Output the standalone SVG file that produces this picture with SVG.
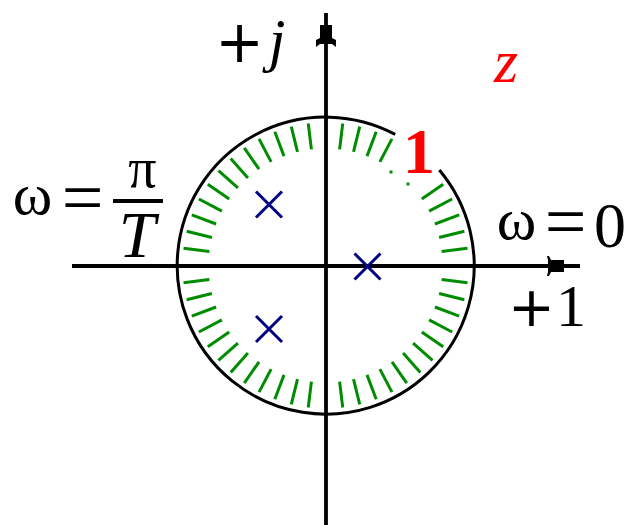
<svg xmlns="http://www.w3.org/2000/svg" xmlns:xlink="http://www.w3.org/1999/xlink" width="630" height="525" viewBox="0 0 630 525">
<style>
.ax{stroke:#000;stroke-width:3.8;fill:none}
.circ{stroke:#000;stroke-width:3;fill:none}
.mk{stroke:#008c00;stroke-width:3}
.pole{stroke:#000080;stroke-width:3;fill:none}
.t{font-family:"Liberation Serif","Times New Roman",serif;fill:#000}
.p{font-family:"DejaVu Sans","Liberation Sans",sans-serif;fill:#000}
.red{fill:#ff0000}
</style>
<defs>
<line id="m" class="mk" x1="442.5" y1="265.5" x2="468.5" y2="265.5"/>
<path id="x" class="pole" d="M-13,-13 L13,13 M-13,13 L13,-13"/>
</defs>
<rect width="630" height="525" fill="#fff"/>
<g id="hatch">
<use xlink:href="#m" transform="rotate(-6.923 325.5 265.5)"/>
<use xlink:href="#m" transform="rotate(-13.846 325.5 265.5)"/>
<use xlink:href="#m" transform="rotate(-20.769 325.5 265.5)"/>
<use xlink:href="#m" transform="rotate(-27.692 325.5 265.5)"/>
<use xlink:href="#m" transform="rotate(-34.615 325.5 265.5)"/>
<use xlink:href="#m" transform="rotate(-62.308 325.5 265.5)"/>
<use xlink:href="#m" transform="rotate(-69.231 325.5 265.5)"/>
<use xlink:href="#m" transform="rotate(-76.154 325.5 265.5)"/>
<use xlink:href="#m" transform="rotate(-83.077 325.5 265.5)"/>
<use xlink:href="#m" transform="rotate(-96.923 325.5 265.5)"/>
<use xlink:href="#m" transform="rotate(-103.846 325.5 265.5)"/>
<use xlink:href="#m" transform="rotate(-110.769 325.5 265.5)"/>
<use xlink:href="#m" transform="rotate(-117.692 325.5 265.5)"/>
<use xlink:href="#m" transform="rotate(-124.615 325.5 265.5)"/>
<use xlink:href="#m" transform="rotate(-131.538 325.5 265.5)"/>
<use xlink:href="#m" transform="rotate(-138.462 325.5 265.5)"/>
<use xlink:href="#m" transform="rotate(-145.385 325.5 265.5)"/>
<use xlink:href="#m" transform="rotate(-152.308 325.5 265.5)"/>
<use xlink:href="#m" transform="rotate(-159.231 325.5 265.5)"/>
<use xlink:href="#m" transform="rotate(-166.154 325.5 265.5)"/>
<use xlink:href="#m" transform="rotate(-173.077 325.5 265.5)"/>
<use xlink:href="#m" transform="rotate(-186.923 325.5 265.5)"/>
<use xlink:href="#m" transform="rotate(-193.846 325.5 265.5)"/>
<use xlink:href="#m" transform="rotate(-200.769 325.5 265.5)"/>
<use xlink:href="#m" transform="rotate(-207.692 325.5 265.5)"/>
<use xlink:href="#m" transform="rotate(-214.615 325.5 265.5)"/>
<use xlink:href="#m" transform="rotate(-221.538 325.5 265.5)"/>
<use xlink:href="#m" transform="rotate(-228.462 325.5 265.5)"/>
<use xlink:href="#m" transform="rotate(-235.385 325.5 265.5)"/>
<use xlink:href="#m" transform="rotate(-242.308 325.5 265.5)"/>
<use xlink:href="#m" transform="rotate(-249.231 325.5 265.5)"/>
<use xlink:href="#m" transform="rotate(-256.154 325.5 265.5)"/>
<use xlink:href="#m" transform="rotate(-263.077 325.5 265.5)"/>
<use xlink:href="#m" transform="rotate(-276.923 325.5 265.5)"/>
<use xlink:href="#m" transform="rotate(-283.846 325.5 265.5)"/>
<use xlink:href="#m" transform="rotate(-290.769 325.5 265.5)"/>
<use xlink:href="#m" transform="rotate(-297.692 325.5 265.5)"/>
<use xlink:href="#m" transform="rotate(-304.615 325.5 265.5)"/>
<use xlink:href="#m" transform="rotate(-311.538 325.5 265.5)"/>
<use xlink:href="#m" transform="rotate(-318.462 325.5 265.5)"/>
<use xlink:href="#m" transform="rotate(-325.385 325.5 265.5)"/>
<use xlink:href="#m" transform="rotate(-332.308 325.5 265.5)"/>
<use xlink:href="#m" transform="rotate(-339.231 325.5 265.5)"/>
<use xlink:href="#m" transform="rotate(-346.154 325.5 265.5)"/>
<use xlink:href="#m" transform="rotate(-353.077 325.5 265.5)"/>
<rect x="389.5" y="170.5" width="3" height="3" fill="#008c00"/>
<rect x="406.5" y="182.5" width="3" height="3" fill="#008c00"/>
</g>
<g id="unit-circle">
<path class="circ" d="M439.3,170 A148.5,148.5 0 1 1 395.2,134.4"/>
</g>
<g id="axes">
<line class="ax" x1="72" y1="266" x2="580" y2="266"/>
<line class="ax" x1="326" y1="13" x2="326" y2="525"/>
<path d="M320,25 H332 V38 L336,40 V47 L332,44 H320 L316,47 V40 L320,38 Z" fill="#000"/>
<path d="M564,260 V272 H551 L549,276 H547 L548,272 V260 L547,256 H549 L551,260 Z" fill="#000"/>
</g>
<g id="poles">
<use xlink:href="#x" x="269" y="204.5"/>
<use xlink:href="#x" x="367.5" y="266.5"/>
<use xlink:href="#x" x="269" y="329"/>
</g>
<g id="labels">
<text class="p" font-size="58" x="239.5" y="62" text-anchor="middle">+</text>
<text class="t" font-size="60" font-style="italic" x="277" y="60" text-anchor="middle">j</text>
<text class="t red" font-size="62" font-style="italic" x="506" y="82" text-anchor="middle">z</text>
<text class="t red" font-size="64" font-weight="bold" x="419" y="173" text-anchor="middle">1</text>
<text class="t" font-size="60" x="32.5" y="214" text-anchor="middle">ω</text>
<text class="t" font-size="74" x="82.5" y="221.7" text-anchor="middle">=</text>
<text class="t" font-size="56" x="142.5" y="187" text-anchor="middle">π</text>
<line x1="113" y1="201" x2="163" y2="201" stroke="#000" stroke-width="4"/>
<text class="t" font-size="66" font-style="italic" x="137" y="257" text-anchor="middle">T</text>
<text class="t" font-size="60" x="516.5" y="239" text-anchor="middle">ω</text>
<text class="t" font-size="74" x="565.5" y="245.7" text-anchor="middle">=</text>
<text class="t" font-size="64" x="610" y="247" text-anchor="middle">0</text>
<text class="t" font-size="60" x="508" y="326"><tspan class="p" font-size="56">+</tspan><tspan dx="1">1</tspan></text>
</g>
</svg>
